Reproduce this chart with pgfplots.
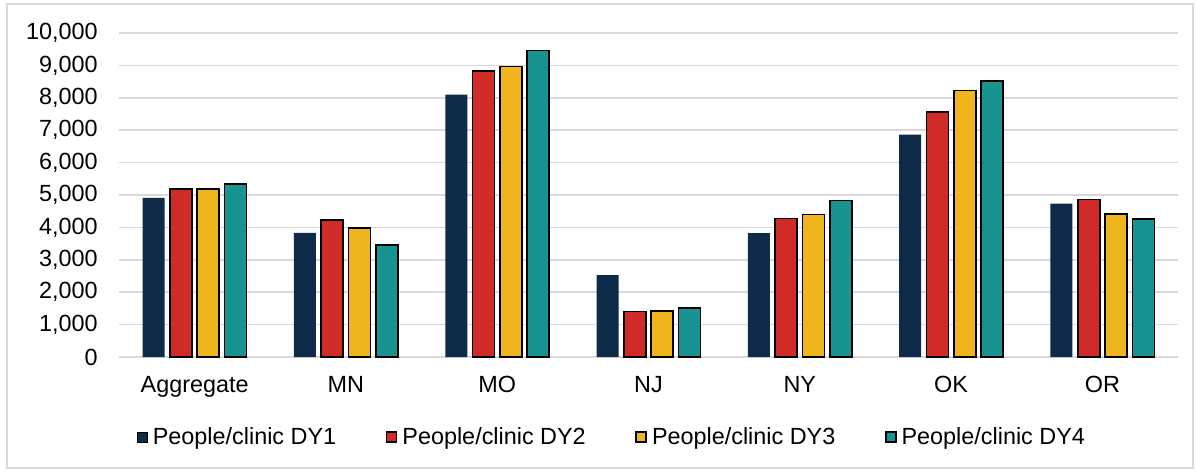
\documentclass[border=0pt]{standalone}
\usepackage{fontspec}
\setmainfont{Liberation Sans}
\usepackage{pgfplots}
\pgfplotsset{compat=1.18}

\definecolor{dyone}{HTML}{0E2B4A}
\definecolor{dytwo}{HTML}{D12B28}
\definecolor{dythree}{HTML}{EFB41E}
\definecolor{dyfour}{HTML}{189392}
\definecolor{gridgray}{HTML}{D9D9D9}

\begin{document}
\begin{tikzpicture}[font=\fontsize{11.7}{14}\selectfont]
\useasboundingbox (0,0) rectangle (600pt,236pt);
\draw[gridgray, line width=0.75pt] (3.5pt,2pt) rectangle (596.5pt,234pt);
\begin{axis}[
    at={(59.5pt,57.5pt)}, anchor=south west,
    scale only axis, width=529.5pt, height=162pt,
    ybar=2.65pt, bar width=11pt,
    xmin=-0.5, xmax=6.5, ymin=0, ymax=10000,
    xtick=data,
    xticklabels={Aggregate,MN,MO,NJ,NY,OK,OR},
    ytick={0,1000,...,10000},
    scaled y ticks=false,
    /pgf/number format/fixed,
    /pgf/number format/1000 sep={,},
    /pgf/number format/assume math mode=true,
    xticklabel style={anchor=base, inner sep=0pt, yshift=-17.5pt},
    yticklabel style={anchor=east, inner sep=0pt, xshift=-10.5pt},
    major tick length=0pt,
    axis line style={draw=none},
    ymajorgrids, major grid style={gridgray, line width=0.75pt},
    legend columns=4,
    legend style={at={(0.4646,-0.247)}, anchor=center, draw=none, fill=none,
        inner sep=0pt, nodes={inner sep=0pt},
        /tikz/every odd column/.append style={column sep=2.5pt},
        /tikz/every even column/.append style={column sep=24.8pt}},
    legend image code/.code={\draw[#1] (0pt,-2.5pt) rectangle (5pt,2.5pt);},
]
\addplot[fill=dyone, draw=none] coordinates {
    (0,4910) (1,3830) (2,8095) (3,2530) (4,3820) (5,6860) (6,4730)};
\addplot[fill=dytwo, draw=black, line width=0.8pt] coordinates {
    (0,5180) (1,4230) (2,8835) (3,1400) (4,4275) (5,7570) (6,4860)};
\addplot[fill=dythree, draw=black, line width=0.8pt] coordinates {
    (0,5180) (1,3985) (2,8960) (3,1420) (4,4400) (5,8220) (6,4420)};
\addplot[fill=dyfour, draw=black, line width=0.8pt] coordinates {
    (0,5345) (1,3450) (2,9455) (3,1515) (4,4830) (5,8525) (6,4255)};
\legend{People/clinic DY1,People/clinic DY2,People/clinic DY3,People/clinic DY4}
\end{axis}
\end{tikzpicture}
\end{document}
